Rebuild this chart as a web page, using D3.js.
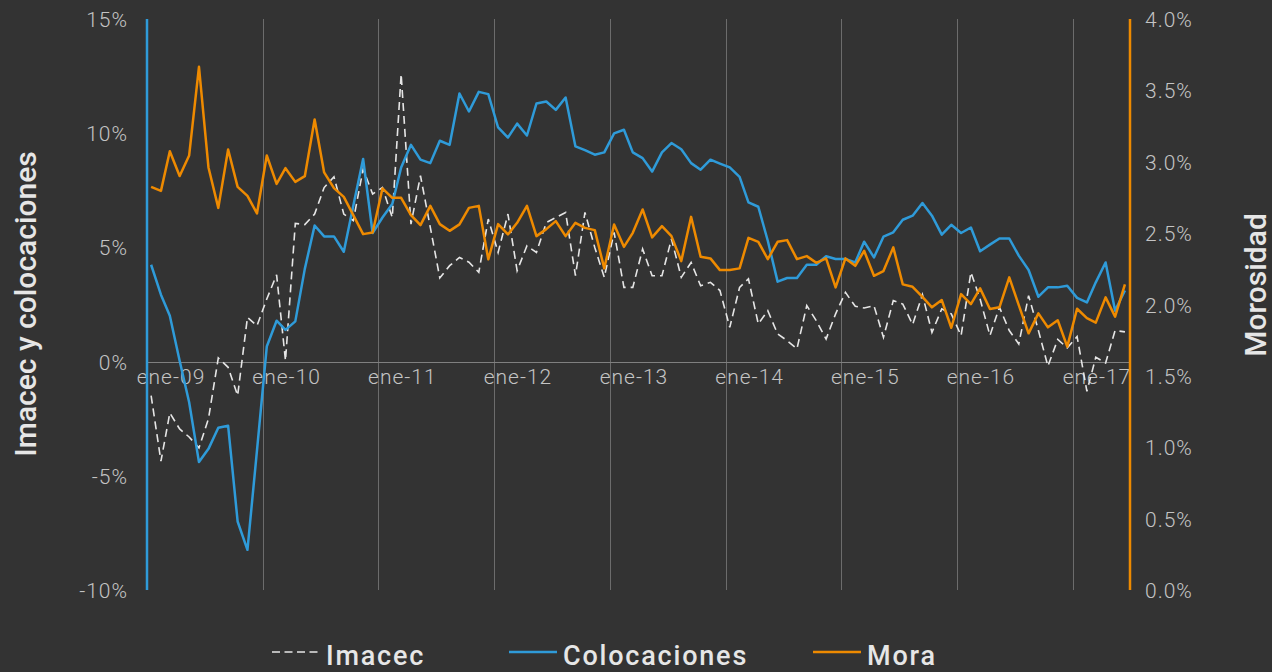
<!DOCTYPE html>
<html>
<head>
<meta charset="UTF-8">
<style>
body{
	margin: 0;
	background: #333333;
	font-family: Roboto, "Noto Sans", sans-serif;
}
svg{
	display: block;
}
.tick-label{
	fill: #c4c4c4;
	font-size: 21px;
	font-weight: 300;
	letter-spacing: 1px;
}
.axis-title{
	fill: #e6e6e6;
	font-size: 30px;
	font-weight: 500;
}
.legend-label{
	fill: #e6e6e6;
	font-size: 27px;
	font-weight: 500;
	letter-spacing: 1.8px;
}
.grid line{
	stroke: #6c6c6c;
	stroke-width: 1;
}
</style>
<script src="https://cdn.jsdelivr.net/npm/d3@7"></script>
</head>
<body>
<script>
// monthly, ene-09 .. jun-17
var startYear = 2009, startMonth = 0;

var colocaciones = [4.24, 2.93, 2.01, 0.04, -1.78, -4.4, -3.82, -2.9, -2.81, -7.0, -8.24, -3.9,
	0.66, 1.79, 1.39, 1.76, 4.06, 5.96, 5.48, 5.48, 4.81, 6.82, 8.87, 5.63,
	6.31, 6.90, 8.50, 9.49, 8.84, 8.69, 9.67, 9.49, 11.74, 10.95, 11.81, 11.71,
	10.25, 9.81, 10.42, 9.90, 11.30, 11.39, 11.02, 11.56, 9.42, 9.26, 9.06, 9.16,
	9.99, 10.15, 9.16, 8.91, 8.32, 9.16, 9.57, 9.30, 8.69, 8.40, 8.84, 8.67,
	8.50, 8.09, 6.97, 6.78, 5.29, 3.50, 3.66, 3.66, 4.24, 4.24, 4.61, 4.49,
	4.49, 4.34, 5.25, 4.56, 5.47, 5.66, 6.21, 6.39, 6.94, 6.39, 5.56, 5.99,
	5.63, 5.87, 4.83, 5.12, 5.39, 5.39, 4.64, 4.01, 2.84, 3.25, 3.25, 3.32,
	2.79, 2.59, 3.47, 4.34, 2.23, 3.11];

var imacec = [-1.49, -4.36, -2.25, -2.95, -3.3, -3.78, -2.5, 0.16, -0.25, -1.49, 1.94, 1.57,
	2.74, 3.8, 0.04, 6.05, 6.0, 6.46, 7.62, 8.09, 6.46, 6.17, 8.43, 7.34,
	7.62, 6.31, 12.59, 6.02, 8.14, 5.88, 3.66, 4.2, 4.56, 4.35, 3.91, 6.24,
	4.78, 6.46, 3.98, 5.07, 4.78, 6.09, 6.31, 6.53, 3.76, 6.53, 5.0, 3.69,
	5.66, 3.25, 3.25, 4.93, 3.76, 3.76, 5.37, 3.69, 4.34, 3.32, 3.47, 3.11,
	1.50, 3.25, 3.62, 1.65, 2.23, 1.21, 0.92, 0.56, 2.45, 1.79, 0.99, 2.09,
	3.03, 2.42, 2.35, 2.45, 1.06, 2.67, 2.52, 1.62, 2.93, 1.28, 2.31, 2.09,
	1.14, 3.91, 2.74, 1.14, 2.38, 1.36, 0.77, 2.89, 1.36, -0.2, 0.97, 0.6,
	1.1, -1.3, 0.19, -0.06, 1.36, 1.3];

var mora = [2.824, 2.796, 3.074, 2.90, 3.044, 3.665, 2.96, 2.677, 3.086, 2.824, 2.761, 2.638,
	3.044, 2.845, 2.955, 2.859, 2.899, 3.296, 2.925, 2.815, 2.754, 2.626, 2.493, 2.505,
	2.813, 2.747, 2.747, 2.626, 2.556, 2.691, 2.563, 2.516, 2.561, 2.677, 2.691, 2.316,
	2.563, 2.491, 2.572, 2.691, 2.479, 2.528, 2.584, 2.479, 2.572, 2.537, 2.521, 2.253,
	2.561, 2.404, 2.502, 2.666, 2.47, 2.549, 2.479, 2.304, 2.614, 2.334, 2.323, 2.241,
	2.241, 2.253, 2.467, 2.439, 2.318, 2.439, 2.451, 2.318, 2.339, 2.292, 2.323, 2.12,
	2.323, 2.271, 2.376, 2.201, 2.234, 2.40, 2.141, 2.124, 2.054, 1.98, 2.031, 1.837,
	2.073, 2.003, 2.113, 1.968, 1.98, 2.19, 1.996, 1.798, 1.938, 1.84, 1.89, 1.705,
	1.97, 1.905, 1.873, 2.05, 1.915, 2.141];

var yearLabels = ["ene-09", "ene-10", "ene-11", "ene-12", "ene-13", "ene-14", "ene-15", "ene-16", "ene-17"];
var leftTicks = [-10, -5, 0, 5, 10, 15];
var rightTicks = [0, 0.5, 1.0, 1.5, 2.0, 2.5, 3.0, 3.5, 4.0];

var colBlue = "#2f9bd9",
	colOrange = "#ee8a00",
	colWhite = "#e6e6e6";

var W = 1272, H = 672;
var plotLeft = 147, plotRight = 1130, plotTop = 19, plotBottom = 590;

var dates = colocaciones.map(function(d, i){ return new Date(startYear, startMonth + i, 14); });

var x = d3.scaleTime()
	.domain([new Date(2009, 0, 1), new Date(2017, 5, 30)])
	.range([plotLeft, plotRight]);

var yL = d3.scaleLinear().domain([-10, 15]).range([plotBottom, plotTop]);
var yR = d3.scaleLinear().domain([0, 4]).range([plotBottom, plotTop]);

var svg = d3.select("body").append("svg")
	.attr("width", W)
	.attr("height", H);

svg.append("rect").attr("width", W).attr("height", H).attr("fill", "#333333");

// vertical gridlines, one per January
var jan = function(i){ return Math.round(x(new Date(startYear + i, 0, 1))) + 0.5; };

var grid = svg.append("g").attr("class", "grid");
grid.selectAll("line")
	.data(yearLabels.slice(1))
	.enter().append("line")
	.attr("x1", function(d, i){ return jan(i + 1); })
	.attr("x2", function(d, i){ return jan(i + 1); })
	.attr("y1", plotTop)
	.attr("y2", plotBottom);

// zero line
svg.append("line")
	.attr("x1", plotLeft).attr("x2", plotRight)
	.attr("y1", Math.round(yL(0)) + 0.5).attr("y2", Math.round(yL(0)) + 0.5)
	.attr("stroke", "#808080").attr("stroke-width", 1);

// x labels
svg.append("g").selectAll("text")
	.data(yearLabels)
	.enter().append("text")
	.attr("class", "tick-label")
	.attr("x", function(d, i){ return x(new Date(startYear + i, 0, 1)) + 24; })
	.attr("y", 384)
	.attr("text-anchor", "middle")
	.text(function(d){ return d; });

// left axis
svg.append("line")
	.attr("x1", plotLeft).attr("x2", plotLeft)
	.attr("y1", plotTop).attr("y2", plotBottom)
	.attr("stroke", colBlue).attr("stroke-width", 2.5);

svg.append("g").selectAll("text")
	.data(leftTicks)
	.enter().append("text")
	.attr("class", "tick-label")
	.attr("x", 128)
	.attr("y", function(d){ return yL(d) + 8; })
	.attr("text-anchor", "end")
	.text(function(d){ return d + "%"; });

// right axis
svg.append("line")
	.attr("x1", plotRight).attr("x2", plotRight)
	.attr("y1", plotTop).attr("y2", plotBottom)
	.attr("stroke", colOrange).attr("stroke-width", 2.5);

svg.append("g").selectAll("text")
	.data(rightTicks)
	.enter().append("text")
	.attr("class", "tick-label")
	.attr("x", 1145)
	.attr("y", function(d){ return yR(d) + 8; })
	.text(function(d){ return d3.format(".1f")(d) + "%"; });

// axis titles
svg.append("text")
	.attr("class", "axis-title")
	.attr("transform", "translate(36,304) rotate(-90)")
	.attr("text-anchor", "middle")
	.text("Imacec y colocaciones");

svg.append("text")
	.attr("class", "axis-title")
	.attr("transform", "translate(1266,285) rotate(-90)")
	.attr("text-anchor", "middle")
	.text("Morosidad");

// series
var lineL = d3.line()
	.x(function(d, i){ return x(dates[i]); })
	.y(function(d){ return yL(d); });

var lineR = d3.line()
	.x(function(d, i){ return x(dates[i]); })
	.y(function(d){ return yR(d); });

svg.append("path")
	.datum(imacec)
	.attr("d", lineL)
	.attr("fill", "none")
	.attr("stroke", colWhite)
	.attr("stroke-width", 1.6)
	.attr("stroke-dasharray", "8,5");

svg.append("path")
	.datum(colocaciones)
	.attr("d", lineL)
	.attr("fill", "none")
	.attr("stroke", colBlue)
	.attr("stroke-width", 2.5)
	.attr("stroke-linejoin", "round");

svg.append("path")
	.datum(mora)
	.attr("d", lineR)
	.attr("fill", "none")
	.attr("stroke", colOrange)
	.attr("stroke-width", 2.5)
	.attr("stroke-linejoin", "round");

// legend
var legendItems = [
	{name: "Imacec", color: colWhite, dash: "8,4.5", width: 1.5, x: 272},
	{name: "Colocaciones", color: colBlue, dash: null, width: 2.5, x: 509},
	{name: "Mora", color: colOrange, dash: null, width: 2.5, x: 813}
];

var legend = svg.append("g").selectAll("g")
	.data(legendItems)
	.enter().append("g");

legend.append("line")
	.attr("x1", function(d){ return d.x; })
	.attr("x2", function(d){ return d.x + 48; })
	.attr("y1", 652).attr("y2", 652)
	.attr("stroke", function(d){ return d.color; })
	.attr("stroke-width", function(d){ return d.width; })
	.attr("stroke-dasharray", function(d){ return d.dash; });

legend.append("text")
	.attr("class", "legend-label")
	.attr("x", function(d){ return d.x + 54; })
	.attr("y", 665)
	.text(function(d){ return d.name; });
</script>
</body>
</html>
